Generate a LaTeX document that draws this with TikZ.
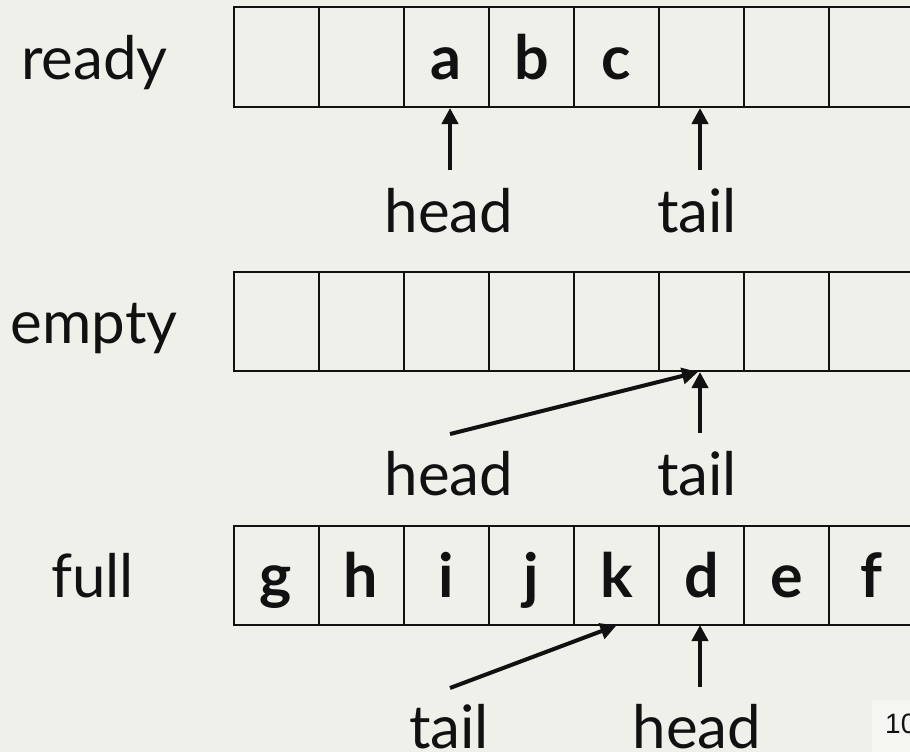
\documentclass[tikz,border=0pt]{standalone}
\usepackage{fontspec}
\setmainfont{Lato}
\newfontfamily\pagenumfont{Liberation Sans}
\usetikzlibrary{arrows.meta}

\definecolor{slidebg}{RGB}{240,240,235}
\definecolor{numbg}{RGB}{245,245,242}
\definecolor{ink}{RGB}{17,17,17}

\tikzset{
  cell/.style={draw=ink, line width=2pt, minimum width=85.1pt, minimum height=99pt,
    inner sep=0pt, text height=45pt, text depth=0pt, font=\fontsize{61}{73}\selectfont\bfseries, text=ink},
  rowname/.style={anchor=base, inner sep=0pt, font=\fontsize{60}{72}\selectfont, text=ink},
  ptrname/.style={anchor=base, inner sep=0pt, font=\fontsize{60}{72}\selectfont, text=ink},
  ptr/.style={draw=ink, line width=4pt, -{Triangle[width=16pt,length=16pt]}}
}

\begin{document}
\begin{tikzpicture}[x=1pt, y=-1pt]
  % canvas
  \useasboundingbox (0,0) rectangle (910,752);
  \fill[slidebg] (0,0) rectangle (910,752);
  \clip (0,0) rectangle (910,752);

  % three ring buffers of eight slots each
  \foreach \txt [count=\i] in {{},{},a,b,c,{},{},{}}
    \node[cell] (r1c\i) at ({233.5+85.1*(\i-0.5)},57) {\txt};
  \foreach \i in {1,...,8}
    \node[cell] (r2c\i) at ({233.5+85.1*(\i-0.5)},321) {};
  \foreach \txt [count=\i] in {g,h,i,j,k,d,e,f}
    \node[cell] (r3c\i) at ({233.5+85.1*(\i-0.5)},575) {\txt};

  % row names
  \node[rowname] (ready) at (94.5,80) {ready};
  \node[rowname] (empty) at (94,343) {empty};
  \node[rowname] (full)  at (92.5,597) {full};

  % pointer labels
  \node[ptrname] (h1) at (449,232) {head};
  \node[ptrname] (t1) at (697,232) {tail};
  \node[ptrname] (h2) at (449,495) {head};
  \node[ptrname] (t2) at (697,495) {tail};
  \node[ptrname] (t3) at (449,748) {tail};
  \node[ptrname] (h3) at (697,748) {head};

  % pointer arrow tails and tips
  \coordinate (h1s) at (450,170);
  \coordinate (h1e) at (450,108);
  \coordinate (t1s) at (700,170);
  \coordinate (t1e) at (700,108);
  \coordinate (h2s) at (450,434);
  \coordinate (h2e) at (698,372);
  \coordinate (t2s) at (700,433);
  \coordinate (t2e) at (700,372);
  \coordinate (t3s) at (450,688);
  \coordinate (t3e) at (r3c5.south);
  \coordinate (h3s) at (700,687);
  \coordinate (h3e) at (700,625);

  \draw[ptr] (h1s) -- (h1e);
  \draw[ptr] (t1s) -- (t1e);
  \draw[ptr] (h2s) -- (h2e);
  \draw[ptr] (t2s) -- (t2e);
  \draw[ptr] (t3s) -- (t3e);
  \draw[ptr] (h3s) -- (h3e);

  % slide number
  \fill[numbg] (872,700) rectangle (915,752);
  \node[anchor=base west, inner sep=0pt, font=\pagenumfont\fontsize{28}{32}\selectfont, text=ink] (pg) at (885,733) {10};
\end{tikzpicture}
\end{document}
